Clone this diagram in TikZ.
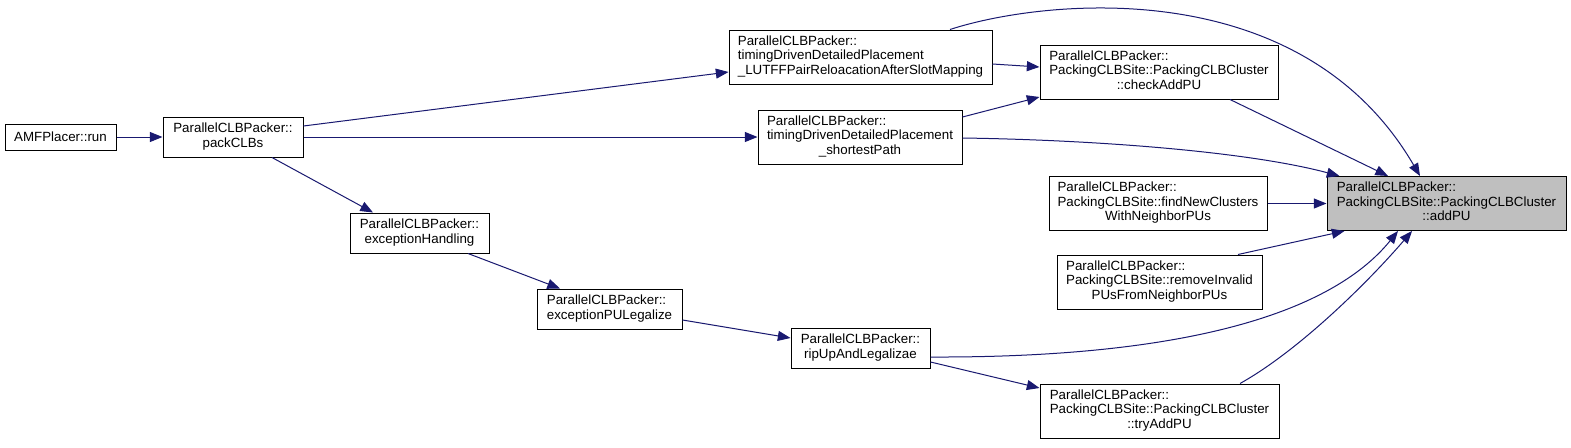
\documentclass[tikz,border=0pt]{standalone}
\usepackage{fontspec}
\setmainfont{Liberation Sans}
\usepackage{xcolor}
\usetikzlibrary{arrows.meta,calc}
\definecolor{edgeblue}{HTML}{191970}
\definecolor{focusgray}{HTML}{BFBFBF}
\newcommand{\fnlabel}[2]{\begin{tabular}{@{}l@{}}#1\\\multicolumn{1}{@{}c@{}}{#2}\end{tabular}}
\tikzset{
  x=0.75pt, y=-0.75pt,
  fnbox/.style 2 args={draw=black, line width=0.75pt, fill=white, inner sep=0pt,
    minimum width=#1*0.75pt, minimum height=#2*0.75pt, font=\fontsize{10}{10.9}\selectfont},
  focus/.style={fill=focusgray},
  call/.style={edgeblue, line width=0.75pt, -{Triangle[length=9.5pt,width=7.5pt]}}
}

\begin{document}
\begin{tikzpicture}

\useasboundingbox[fill=white] (0,0) rectangle (1571,447);

% callers, left to right
\node[fnbox={111}{26}] (run) at (60.5,137) {AMFPlacer::run};
\node[fnbox={140}{40}] (packCLBs) at (233,137) {\fnlabel{ParallelCLBPacker::}{packCLBs}};
\node[fnbox={139}{40}] (excHandling) at (419.5,233) {\fnlabel{ParallelCLBPacker::}{exceptionHandling}};
\node[fnbox={145}{40}] (excPULegalize) at (609.5,309) {\fnlabel{ParallelCLBPacker::}{exceptionPULegalize}};
\node[fnbox={263}{54}] (lutffPair) at (860.5,57) {\fnlabel{ParallelCLBPacker::\\timingDrivenDetailedPlacement}{\_LUTFFPairReloacationAfterSlotMapping}};
\node[fnbox={204}{54}] (shortestPath) at (860,137) {\fnlabel{ParallelCLBPacker::\\timingDrivenDetailedPlacement}{\_shortestPath}};
\node[fnbox={139}{40}] (ripUp) at (860.5,348) {\fnlabel{ParallelCLBPacker::}{ripUpAndLegalizae}};
\node[fnbox={238}{54}] (checkAddPU) at (1159,72) {\fnlabel{ParallelCLBPacker::\\PackingCLBSite::PackingCLBCluster}{::checkAddPU}};
\node[fnbox={218}{54}] (findNew) at (1158,203.5) {\fnlabel{ParallelCLBPacker::\\PackingCLBSite::findNewClusters}{WithNeighborPUs}};
\node[fnbox={205}{54}] (removeInvalid) at (1159.5,282) {\fnlabel{ParallelCLBPacker::\\PackingCLBSite::removeInvalid}{PUsFromNeighborPUs}};
\node[fnbox={239}{54}] (tryAddPU) at (1159.5,411) {\fnlabel{ParallelCLBPacker::\\PackingCLBSite::PackingCLBCluster}{::tryAddPU}};

% the called function
\node[fnbox={239}{54}, focus] (addPU) at (1446.5,203.5) {\fnlabel{ParallelCLBPacker::\\PackingCLBSite::PackingCLBCluster}{::addPU}};

% calls
\draw[call] (run.east) -- (packCLBs.west);
\draw[call] ($(packCLBs.east)+(0,-11)$) -- ($(lutffPair.west)+(0,15)$);
\draw[call] (packCLBs.east) -- (shortestPath.west);
\draw[call] ($(packCLBs.south)+(39,0)$) -- ($(excHandling.north)+(-46.5,0)$);
\draw[call] ($(excHandling.south)+(48.5,0)$) -- ($(excPULegalize.north)+(-49.5,0)$);
\draw[call] ($(excPULegalize.east)+(0,11)$) -- ($(ripUp.west)+(0,-10)$);
\draw[call] ($(lutffPair.east)+(0,7)$) -- ($(checkAddPU.west)+(0,-5)$);
\draw[call] ($(shortestPath.east)+(0,-20)$) -- ($(checkAddPU.west)+(0,25)$);
\draw[call] ($(ripUp.east)+(0,14)$) -- ($(tryAddPU.west)+(0,-23)$);

% calls into addPU
\draw[call] ($(lutffPair.north)+(89.5,0)$) .. controls (1040,0) and (1300,-30) .. ($(addPU.north)+(-26.5,0)$);
\draw[call] ($(checkAddPU.south)+(71,0)$) -- ($(addPU.north)+(-58.5,0)$);
\draw[call] ($(shortestPath.east)+(0,1)$) .. controls (1100,140) and (1250,152) .. ($(addPU.north west)+(13,0)$);
\draw[call] (findNew.east) -- (addPU.west);
\draw[call] ($(removeInvalid.north)+(78.5,0)$) -- ($(addPU.south west)+(18,0)$);
\draw[call] ($(ripUp.east)+(0,9)$) .. controls (1180,358) and (1330,315) .. ($(addPU.south)+(-48.5,0)$);
\draw[call] ($(tryAddPU.north)+(80.5,0)$) .. controls (1300,350) and (1370,280) .. ($(addPU.south)+(-34.5,0)$);

\end{tikzpicture}
\end{document}
